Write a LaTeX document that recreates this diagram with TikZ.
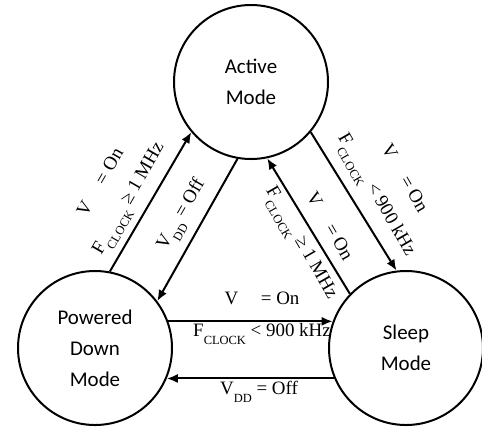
\documentclass[tikz,border=0pt]{standalone}
\usepackage{fontspec}
\setmainfont{Liberation Serif}
\newfontfamily\statefont{Carlito}
\usetikzlibrary{arrows.meta}
\newcommand{\lowsub}[1]{\raisebox{-0.42em}{\fontsize{12.5}{12.5}\selectfont #1}}

\begin{document}
\begin{tikzpicture}[x=1bp,y=-1bp,>={Latex[length=11bp,width=9bp]},
  state/.style={draw,circle,line width=2bp,minimum size=154bp,inner sep=0pt,align=center,font=\statefont\fontsize{21}{31}\selectfont},
  trans/.style={->,line width=2bp},
  lbl/.style={align=center,inner sep=0pt,font=\fontsize{19}{32}\selectfont}]
\useasboundingbox (0,0) rectangle (482,427);
% the three modes
\node[state] (active) at (251,82) {Active\\Mode};
\node[state] (pwrdown) at (95,348) {Powered\\Down\\Mode};
\node[state] (sleep) at (406,348) {Sleep\\Mode};
% transitions
\draw[trans] (pwrdown.79) -- (active.220);
\draw[trans] (active.260) -- (pwrdown.37);
\draw[trans] (active.320) -- (sleep.97);
\draw[trans] (sleep.136) -- (active.282);
\draw[trans] (pwrdown.20) -- (sleep.160);
\draw[trans] (sleep.203) -- (pwrdown.337);
% conditions
\node[lbl,rotate=60] (wakeLbl) at (117,192) {V\phantom{\lowsub{DD}} = On\\F\lowsub{CLOCK} ≥ 1 MHz};
\node[lbl,rotate=60] (offLbl) at (183,215) {V\lowsub{DD} = Off};
\node[lbl,rotate=-60] (slowLbl) at (388,188) {V\phantom{\lowsub{DD}} = On\\F\lowsub{CLOCK} < 900 kHz};
\node[lbl,rotate=-60] (fastLbl) at (313,236) {V\phantom{\lowsub{DD}} = On\\F\lowsub{CLOCK} ≥ 1 MHz};
\node[lbl] (sleepLbl) at (262,318) {V\phantom{\lowsub{DD}} = On\\F\lowsub{CLOCK} < 900 kHz};
\node[lbl] (downLbl) at (259,392) {V\lowsub{DD} = Off};
\end{tikzpicture}
\end{document}
